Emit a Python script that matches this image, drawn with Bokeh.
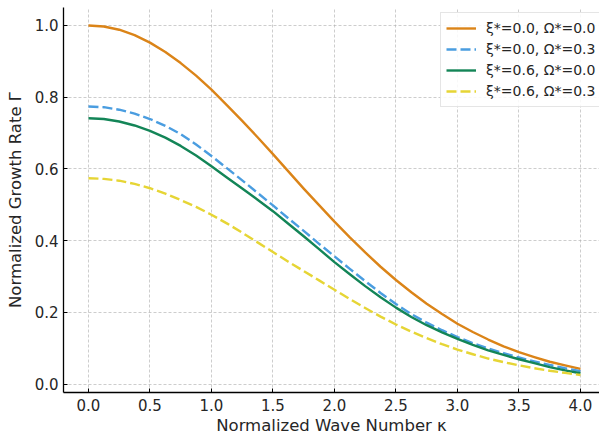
from bokeh.plotting import figure
from bokeh.models import Legend, LegendItem, FixedTicker, Range1d, PrintfTickFormatter
from bokeh.embed import file_html
from bokeh.resources import INLINE

kappa = [0.0, 0.125, 0.25, 0.375, 0.5, 0.625, 0.75, 0.875, 1.0, 1.125, 1.25, 1.375, 1.5, 1.625, 1.75, 1.875,
         2.0, 2.125, 2.25, 2.375, 2.5, 2.625, 2.75, 2.875, 3.0, 3.125, 3.25, 3.375, 3.5, 3.625, 3.75, 3.875, 4.0]

gamma_xi00_om00 = [1.000, 0.997, 0.988, 0.973, 0.952, 0.926, 0.895, 0.860, 0.821, 0.778, 0.734, 0.688, 0.641, 0.593, 0.545, 0.499,
                   0.453, 0.409, 0.367, 0.327, 0.290, 0.256, 0.224, 0.195, 0.168, 0.145, 0.124, 0.105, 0.089, 0.075, 0.062, 0.052, 0.042]
gamma_xi00_om03 = [0.774, 0.772, 0.765, 0.754, 0.739, 0.720, 0.697, 0.668, 0.636, 0.602, 0.568, 0.533, 0.498, 0.462, 0.427, 0.391,
                   0.356, 0.321, 0.287, 0.254, 0.223, 0.195, 0.171, 0.150, 0.131, 0.114, 0.099, 0.086, 0.074, 0.063, 0.053, 0.044, 0.036]
gamma_xi06_om00 = [0.741, 0.739, 0.732, 0.721, 0.706, 0.687, 0.664, 0.637, 0.607, 0.576, 0.545, 0.514, 0.482, 0.447, 0.412, 0.376,
                   0.340, 0.306, 0.273, 0.242, 0.213, 0.187, 0.164, 0.144, 0.126, 0.109, 0.094, 0.081, 0.069, 0.058, 0.047, 0.038, 0.030]
gamma_xi06_om03 = [0.574, 0.572, 0.567, 0.558, 0.546, 0.531, 0.513, 0.494, 0.472, 0.448, 0.422, 0.395, 0.368, 0.341, 0.315, 0.289,
                   0.263, 0.237, 0.212, 0.188, 0.166, 0.146, 0.128, 0.111, 0.096, 0.083, 0.071, 0.061, 0.052, 0.044, 0.037, 0.031, 0.025]

labels = ["ξ*=0.0, Ω*=0.0", "ξ*=0.0, Ω*=0.3", "ξ*=0.6, Ω*=0.0", "ξ*=0.6, Ω*=0.3"]
x_ticks = [0.0, 0.5, 1.0, 1.5, 2.0, 2.5, 3.0, 3.5, 4.0]
y_ticks = [0.0, 0.2, 0.4, 0.6, 0.8, 1.0]

FONT = "DejaVu Sans"
TXT = "#262626"

p = figure(width=599, height=438, output_backend="svg", toolbar_location=None,
           x_range=Range1d(-0.203, 4.155), y_range=Range1d(-0.0237, 1.050),
           min_border_left=63, min_border_right=0, min_border_top=7, min_border_bottom=46)
p.outline_line_color = None
p.background_fill_color = "white"
p.border_fill_color = "white"

series = [
    (gamma_xi00_om00, "#DB8418", None),
    (gamma_xi00_om03, "#4A9DE0", "10 4"),
    (gamma_xi06_om00, "#138557", None),
    (gamma_xi06_om03, "#E6D535", "10 4"),
]
items = []
for (ys, col, dash), lab in zip(series, labels):
    kw = dict(line_color=col, line_width=2.4, line_join="round")
    if dash:
        kw["line_dash"] = dash
    r = p.line(kappa, ys, **kw)
    items.append(LegendItem(label=lab, renderers=[r]))

for ax in (p.xaxis[0], p.yaxis[0]):
    ax.axis_line_color = "black"
    ax.axis_line_width = 1.3
    ax.major_tick_line_color = "black"
    ax.major_tick_in = 4
    ax.major_tick_out = 0
    ax.minor_tick_line_color = None
    ax.major_label_text_font = FONT
    ax.major_label_text_font_size = "15px"
    ax.major_label_text_color = TXT
    ax.axis_label_text_font = FONT
    ax.axis_label_text_font_size = "16.5px"
    ax.axis_label_text_font_style = "normal"
    ax.axis_label_text_color = TXT
    ax.formatter = PrintfTickFormatter(format="%.1f")

p.xaxis.ticker = FixedTicker(ticks=x_ticks)
p.yaxis.ticker = FixedTicker(ticks=y_ticks)
p.xaxis.axis_label = "Normalized Wave Number κ"
p.yaxis.axis_label = "Normalized Growth Rate Γ"
p.xaxis.major_label_standoff = 6
p.yaxis.major_label_standoff = 5
p.xaxis.axis_label_standoff = 2
p.yaxis.axis_label_standoff = 7

for g in (p.xgrid[0], p.ygrid[0]):
    g.grid_line_color = "#b0b0b0"
    g.grid_line_alpha = 0.8
    g.grid_line_width = 0.8
    g.grid_line_dash = "3 2"

legend = Legend(items=items, location=(377, 285))
legend.label_text_font = FONT
legend.label_text_font_size = "14px"
legend.label_text_color = TXT
legend.glyph_width = 30
legend.glyph_height = 20
legend.label_height = 20
legend.label_standoff = 10
legend.spacing = 1
legend.padding = 5
legend.margin = 0
legend.border_line_color = "#cccccc"
legend.border_line_width = 1
legend.background_fill_color = "white"
legend.background_fill_alpha = 0.85
p.add_layout(legend, "center")

open("out.html", "w").write(file_html(p, INLINE))
